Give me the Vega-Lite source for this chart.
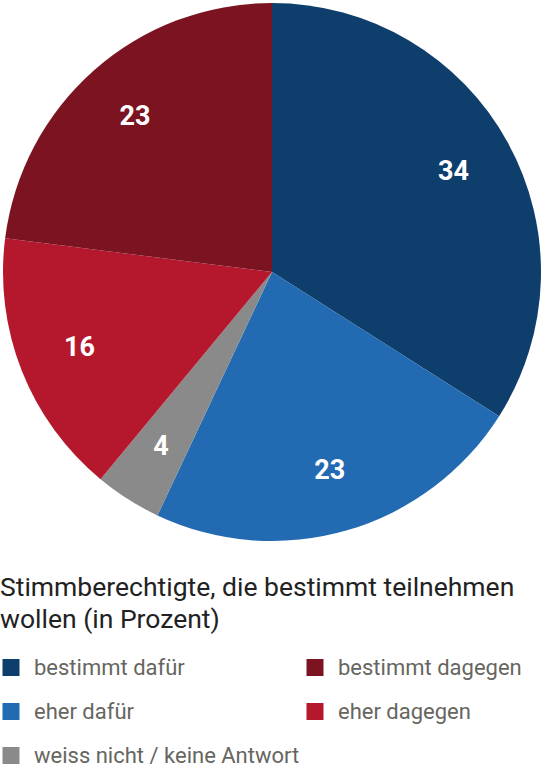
{
  "$schema": "https://vega.github.io/schema/vega-lite/v6.json",
  "width": 544,
  "height": 544,
  "padding": 0,
  "autosize": {"type": "pad"},
  "background": "white",
  "data": {
    "values": [
      {"Antwort": "bestimmt dafür", "Prozent": 34, "Reihe": 1},
      {"Antwort": "eher dafür", "Prozent": 23, "Reihe": 2},
      {"Antwort": "weiss nicht / keine Antwort", "Prozent": 4, "Reihe": 3},
      {"Antwort": "eher dagegen", "Prozent": 16, "Reihe": 4},
      {"Antwort": "bestimmt dagegen", "Prozent": 23, "Reihe": 5}
    ]
  },
  "encoding": {
    "theta": {"field": "Prozent", "type": "quantitative", "stack": true},
    "order": {"field": "Reihe", "type": "quantitative"}
  },
  "layer": [
    {
      "mark": {"type": "arc", "outerRadius": 269},
      "encoding": {
        "color": {
          "field": "Antwort",
          "type": "nominal",
          "scale": {
            "domain": ["bestimmt dafür", "eher dafür", "weiss nicht / keine Antwort", "bestimmt dagegen", "eher dagegen"],
            "range": ["#0e3e6b", "#226bb2", "#8a8a8a", "#7b1420", "#b5182d"]
          },
          "legend": {
            "title": ["Stimmberechtigte, die bestimmt teilnehmen", "wollen (in Prozent)"],
            "orient": "none",
            "legendX": 0,
            "legendY": 575,
            "padding": 0,
            "columns": 2,
            "columnPadding": 4,
            "rowPadding": 22,
            "symbolType": "square",
            "symbolSize": 289,
            "symbolStrokeWidth": 0,
            "labelFont": "Roboto",
            "labelFontSize": 22,
            "labelColor": "#66665f",
            "labelOffset": 12,
            "labelLimit": 400,
            "titleFont": "Roboto",
            "titleFontSize": 26.5,
            "titleFontWeight": "normal",
            "titleColor": "#222222",
            "titleLineHeight": 32,
            "titleLimit": 600,
            "titlePadding": 23
          }
        }
      }
    },
    {
      "mark": {"type": "text", "radius": 207, "font": "Roboto", "fontSize": 27, "fontWeight": "bold"},
      "encoding": {
        "text": {"field": "Prozent", "type": "quantitative"},
        "color": {"value": "white"}
      }
    }
  ],
  "view": {"stroke": null}
}
